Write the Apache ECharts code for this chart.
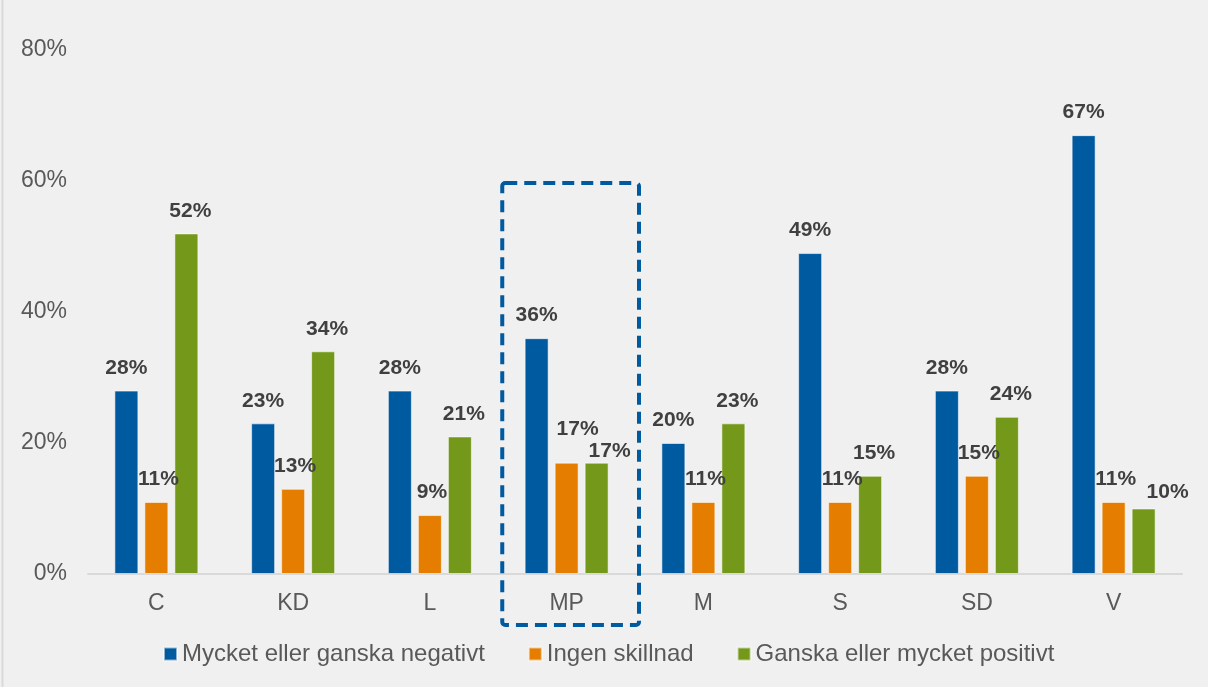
<!DOCTYPE html>
<html>
<head>
<meta charset="utf-8">
<script src="https://cdn.jsdelivr.net/npm/echarts@6/dist/echarts.min.js"></script>
<style>
  html, body { margin: 0; padding: 0; background: #f0f0f0; }
  #chart { width: 1208px; height: 687px; }
</style>
</head>
<body>
<div id="chart"></div>
<script>
// partier
const categories = ['C', 'KD', 'L', 'MP', 'M', 'S', 'SD', 'V'];
const seriesNames = ['Mycket eller ganska negativt', 'Ingen skillnad', 'Ganska eller mycket positivt'];
const negative = [28, 23, 28, 36, 20, 49, 28, 67];
const noDiff = [11, 13, 9, 17, 11, 11, 15, 11];
const positive = [52, 34, 21, 17, 23, 15, 24, 10];
const yTicks = [0, 20, 40, 60, 80];

const colors = ['#005aa0', '#e57e00', '#74981a'];
// excel flyttar några etiketter så de inte krockar
const labelNudge = {
  1: { MP: [9, -11] },
  2: { MP: [9, 11], V: [20, 6] }
};

const chart = echarts.init(document.getElementById('chart'));

function makeSeries(name, values, idx) {
  return {
    name: name,
    type: 'bar',
    barWidth: 24,
    barGap: '25%',
    itemStyle: {
      color: colors[idx],
      borderColor: 'rgba(255,255,255,0.55)',
      borderWidth: 1
    },
    label: {
      show: true,
      position: 'top',
      distance: 12,
      offset: [idx * 2, 0],
      formatter: '{c}%',
      fontFamily: 'Liberation Sans',
      fontWeight: 'bold',
      fontSize: 21,
      color: '#404040'
    },
    data: values.map((v, i) => {
      const n = (labelNudge[idx] || {})[categories[i]];
      if (!n) return v;
      return { value: v, label: { offset: [idx * 2 + n[0], n[1]] } };
    })
  };
}

const option = {
  backgroundColor: '#f0f0f0',
  animation: false,
  textStyle: { fontFamily: 'Liberation Sans' },
  grid: { left: 88, right: 26, top: 50, bottom: 113 },
  legend: {
    left: 163,
    top: 642,
    padding: 0,
    itemWidth: 13,
    itemHeight: 13,
    itemGap: 43,
    icon: 'rect',
    textStyle: { fontSize: 24, color: '#595959', fontFamily: 'Liberation Sans' },
    data: seriesNames
  },
  xAxis: {
    type: 'category',
    data: categories,
    axisLine: { lineStyle: { color: '#d9d9d9', width: 2 } },
    axisTick: { show: false },
    axisLabel: { fontSize: 23, color: '#595959', margin: 18 }
  },
  yAxis: {
    type: 'value',
    min: yTicks[0],
    max: yTicks[yTicks.length - 1],
    interval: 20,
    splitLine: { show: false },
    axisLine: { show: false },
    axisTick: { show: false },
    axisLabel: { fontSize: 23, color: '#595959', margin: 21, formatter: '{value}%' }
  },
  series: [
    makeSeries(seriesNames[0], negative, 0),
    makeSeries(seriesNames[1], noDiff, 1),
    makeSeries(seriesNames[2], positive, 2)
  ]
};

chart.setOption(option);

// streckad ruta runt MP
const cx = chart.convertToPixel({ xAxisIndex: 0 }, 'MP');
const band = chart.convertToPixel({ xAxisIndex: 0 }, 'M') - cx;
const yTop = chart.convertToPixel({ yAxisIndex: 0 }, 60);
const yBase = chart.convertToPixel({ yAxisIndex: 0 }, 0);

chart.setOption({
  graphic: [
    {
      type: 'line',
      shape: { x1: 2.5, y1: 0, x2: 2.5, y2: 687 },
      style: { stroke: '#d9d9d9', lineWidth: 2 }
    },
    {
      type: 'rect',
      z: 100,
      shape: {
        x: cx - band / 2 + 4,
        y: yTop + 2,
        width: band,
        height: yBase + 51 - (yTop + 2),
        r: 3
      },
      style: {
        fill: 'none',
        stroke: '#005aa0',
        lineWidth: 4,
        lineDash: [12, 7]
      }
    }
  ]
});
</script>
</body>
</html>
